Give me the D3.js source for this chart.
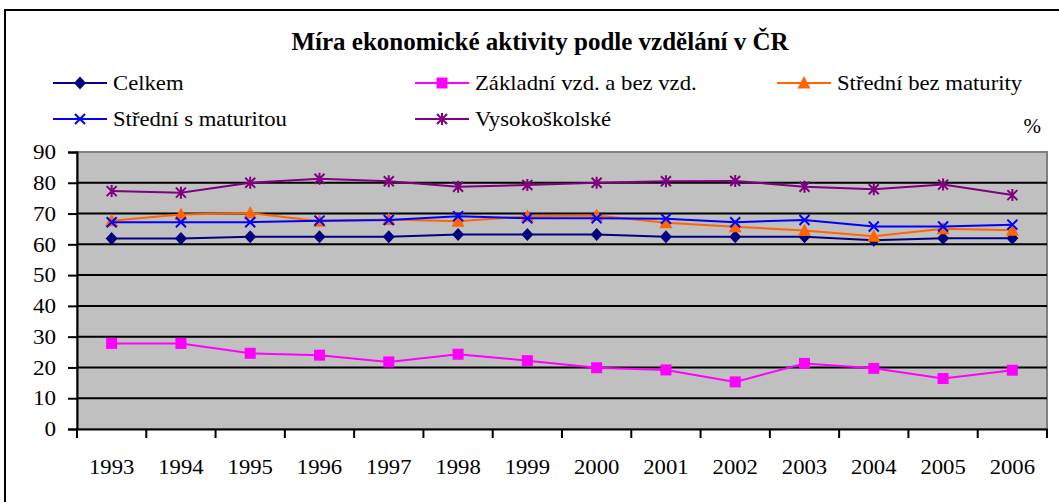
<!DOCTYPE html>
<html>
<head>
<meta charset="utf-8">
<script src="https://cdn.jsdelivr.net/npm/d3@7"></script>
<style>
  body { margin: 0; background: #fff; }
</style>
</head>
<body>
<svg id="chart" width="1059" height="502"></svg>
<script>
// roky na ose x
const years = ["1993", "1994", "1995", "1996", "1997", "1998", "1999", "2000", "2001", "2002", "2003", "2004", "2005", "2006"];

// hodnoty jednotlivých řad (v %)
const celkem = [61.9, 61.9, 62.5, 62.5, 62.5, 63.2, 63.2, 63.2, 62.5, 62.5, 62.5, 61.3, 62.0, 62.0];
const zakladni = [27.8, 27.8, 24.6, 24.0, 21.8, 24.3, 22.2, 19.9, 19.2, 15.3, 21.3, 19.7, 16.4, 19.1];
const stredniBez = [67.7, 69.7, 70.2, 67.5, 68.1, 67.5, 69.1, 69.4, 67.0, 65.7, 64.5, 62.6, 65.1, 64.6];
const stredniS = [67.2, 67.2, 67.2, 67.7, 67.9, 69.1, 68.5, 68.5, 68.3, 67.2, 67.9, 65.8, 65.8, 66.4];
const vysoko = [77.3, 76.8, 80.0, 81.3, 80.5, 78.7, 79.3, 80.0, 80.5, 80.6, 78.7, 77.9, 79.4, 76.0];

const yTicks = [0, 10, 20, 30, 40, 50, 60, 70, 80, 90];

const series = [
  { name: "Celkem", values: celkem, color: "#000080", marker: "diamond" },
  { name: "Základní vzd. a bez vzd.", values: zakladni, color: "#FF00FF", marker: "square" },
  { name: "Střední bez maturity", values: stredniBez, color: "#FF6600", marker: "triangle" },
  { name: "Střední s maturitou", values: stredniS, color: "#0000FF", marker: "cross" },
  { name: "Vysokoškolské", values: vysoko, color: "#800080", marker: "star" }
];

const FONT = "'Liberation Serif', 'Times New Roman', 'DejaVu Serif', serif";

// Excel písmo je o něco širší -> roztáhnout text vodorovně
function stretch(sel, k) {
  sel.each(function () {
    const w = this.getComputedTextLength();
    d3.select(this).attr("textLength", w * k).attr("lengthAdjust", "spacingAndGlyphs");
  });
}

const svg = d3.select("#chart");

// okraj celého grafu
svg.append("rect")
  .attr("x", 5).attr("y", 10)
  .attr("width", 1070).attr("height", 520)
  .attr("fill", "#fff").attr("stroke", "#000").attr("stroke-width", 2);

const plot = { left: 77, right: 1047, top: 152, bottom: 429 };

const x = d3.scaleBand().domain(years).range([plot.left, plot.right]);
const y = d3.scaleLinear().domain([0, 90]).range([plot.bottom, plot.top]);

// šedá plocha
svg.append("rect")
  .attr("x", plot.left).attr("y", plot.top)
  .attr("width", plot.right - plot.left).attr("height", plot.bottom - plot.top)
  .attr("fill", "#C0C0C0").attr("stroke", "#808080").attr("stroke-width", 2);

// mřížka
svg.append("g").selectAll("line")
  .data(yTicks.filter(d => d > 0 && d < 90))
  .join("line")
  .attr("x1", plot.left).attr("x2", plot.right)
  .attr("y1", d => y(d)).attr("y2", d => y(d))
  .attr("stroke", "#000").attr("stroke-width", 2);

// osa y
const yAxis = svg.append("g")
  .attr("transform", `translate(${plot.left},0)`)
  .call(d3.axisLeft(y).tickValues(yTicks).tickSize(9).tickPadding(12));
yAxis.attr("font-family", FONT);
yAxis.select(".domain").attr("stroke-width", 2);
yAxis.selectAll(".tick line").attr("stroke-width", 2);
yAxis.selectAll("text").style("font-size", "21px").style("font-family", FONT).call(stretch, 1.1);

// osa x
const xAxis = svg.append("g")
  .attr("transform", `translate(0,${plot.bottom})`)
  .call(d3.axisBottom(x).tickSize(0).tickPadding(30));
xAxis.attr("font-family", FONT);
xAxis.select(".domain").attr("stroke-width", 2);
xAxis.selectAll("text").style("font-size", "21px").style("font-family", FONT).call(stretch, 1.08);
// dělicí čárky mezi kategoriemi
xAxis.selectAll(".sep")
  .data(years.concat(["end"]))
  .join("line")
  .attr("class", "sep")
  .attr("x1", (d, i) => i < years.length ? x(d) : plot.right)
  .attr("x2", (d, i) => i < years.length ? x(d) : plot.right)
  .attr("y1", 0).attr("y2", 9)
  .attr("stroke", "#000").attr("stroke-width", 2);

function drawMarker(g, type, color) {
  if (type === "diamond") {
    g.append("path").attr("d", "M0,-6.5L6,0L0,6.5L-6,0Z").attr("fill", color);
  } else if (type === "square") {
    g.append("rect").attr("x", -5.5).attr("y", -5.5).attr("width", 11).attr("height", 11).attr("fill", color);
  } else if (type === "triangle") {
    g.append("path").attr("d", "M0,-7L6.5,5.5L-6.5,5.5Z").attr("fill", color);
  } else if (type === "cross") {
    g.append("path").attr("d", "M-5,-5L5,5M-5,5L5,-5").attr("stroke", color).attr("stroke-width", 2);
  } else if (type === "star") {
    g.append("path").attr("d", "M-5,-5L5,5M-5,5L5,-5M0,-6L0,6").attr("stroke", color).attr("stroke-width", 2);
  }
}

const line = d3.line()
  .x((d, i) => x(years[i]) + x.bandwidth() / 2)
  .y(d => y(d));

series.forEach(s => {
  svg.append("path")
    .attr("d", line(s.values))
    .attr("fill", "none")
    .attr("stroke", s.color)
    .attr("stroke-width", 2);
  s.values.forEach((v, i) => {
    const g = svg.append("g")
      .attr("transform", `translate(${x(years[i]) + x.bandwidth() / 2},${y(v)})`);
    drawMarker(g, s.marker, s.color);
  });
});

// nadpis
svg.append("text")
  .attr("x", 540).attr("y", 50)
  .attr("text-anchor", "middle")
  .style("font-family", FONT)
  .style("font-size", "25px").style("font-weight", "bold")
  .text("Míra ekonomické aktivity podle vzdělání v ČR");

// legenda
const legendPos = [
  { x: 53, y: 83 }, { x: 415, y: 83 }, { x: 777, y: 83 },
  { x: 53, y: 119 }, { x: 415, y: 119 }
];
series.forEach((s, i) => {
  const p = legendPos[i];
  const g = svg.append("g").attr("transform", `translate(${p.x},${p.y})`);
  g.append("line").attr("x1", 0).attr("x2", 54).attr("y1", 0).attr("y2", 0)
    .attr("stroke", s.color).attr("stroke-width", 2);
  const m = g.append("g").attr("transform", "translate(27,0)");
  drawMarker(m, s.marker, s.color);
  g.append("text").attr("x", 60).attr("y", 7)
    .style("font-family", FONT)
    .style("font-size", "21px")
    .text(s.name)
    .call(stretch, 1.08);
});

svg.append("text")
  .attr("x", 1041).attr("y", 133)
  .attr("text-anchor", "end")
  .style("font-family", FONT)
  .style("font-size", "21px")
  .text("%");
</script>
</body>
</html>
